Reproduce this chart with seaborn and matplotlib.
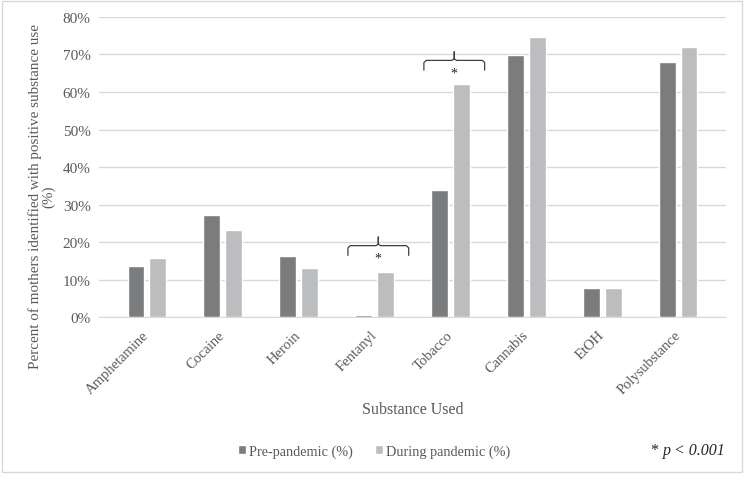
import pandas as pd
import matplotlib.pyplot as plt
import seaborn as sns

# values (percent)
substances = ['Amphetamine', 'Cocaine', 'Heroin', 'Fentanyl', 'Tobacco', 'Cannabis', 'EtOH', 'Polysubstance']
pre_pandemic = [13.6, 27.2, 16.3, 0.6, 33.9, 69.9, 7.7, 67.9]
during_pandemic = [15.7, 23.2, 13.2, 12.0, 62.0, 74.6, 7.7, 72.0]
periods = ['Pre-pandemic (%)', 'During pandemic (%)']

df = pd.DataFrame({
    'Substance': substances * 2,
    'Period': [periods[0]] * len(substances) + [periods[1]] * len(substances),
    'Percent': pre_pandemic + during_pandemic,
})

sns.set_style('white')
plt.rcParams['font.family'] = ['Liberation Serif', 'DejaVu Serif']
txt = '#595959'

fig = plt.figure(figsize=(7.5, 4.81), dpi=100)
ax = fig.add_axes([0.132, 0.338, 0.836, 0.625])

sns.barplot(data=df, x='Substance', y='Percent', hue='Period',
            palette=['#7b7c7e', '#bcbdbf'], width=0.57, gap=0.23,
            saturation=1, ax=ax)

ax.set_ylim(0, 80)
ax.set_yticks(range(0, 81, 10))
ax.set_yticklabels([f'{v}%' for v in range(0, 81, 10)], fontsize=11, color=txt)
ax.yaxis.grid(True, color='#d9d9d9', lw=1)
ax.set_axisbelow(True)
for s in ['top', 'right', 'left']:
    ax.spines[s].set_visible(False)
ax.spines['bottom'].set_color('#d9d9d9')
ax.spines['bottom'].set_zorder(0.5)
ax.tick_params(length=0, pad=6)

ax.set_xticks(range(len(substances)))
ax.set_xticklabels(substances, rotation=45, ha='right', va='center',
                   rotation_mode='anchor', fontsize=10.5, color=txt)
ax.tick_params(axis='x', pad=11)
ax.set_xlabel('Substance Used', fontsize=11.5, color=txt, va='center')
ax.xaxis.set_label_coords(0.5, -0.305)
ax.set_ylabel('Percent of mothers identified with positive substance use\n(%)',
              fontsize=10.9, color=txt, linespacing=0.95)
ax.yaxis.set_label_coords(-0.070, 0.405)

# significance braces
def brace(x0, y):
    xl, xr, xp = x0 - 0.35, x0 + 0.45, x0 + 0.05
    d = 0.03
    xs = [xl, xl, xl + d, xp - d, xp, xp, xp, xp + d, xr - d, xr, xr]
    ys = [y - 2.6, y - 0.6, y, y, y + 0.4, y + 2.3, y + 0.4, y, y, y - 0.6, y - 2.6]
    ax.plot(xs, ys, color='#404040', lw=0.9, solid_joinstyle='round', clip_on=False)
    ax.text(xp, y - 3.3, '*', ha='center', va='center', fontsize=10, color='#262626')

brace(substances.index('Fentanyl'), 19.1)
brace(substances.index('Tobacco'), 68.4)

sns.move_legend(ax, 'center', bbox_to_anchor=(0.439, -0.444), ncol=2,
                frameon=False, title=None, fontsize=10.3, handlelength=0.55,
                handleheight=0.55, handletextpad=0.25, columnspacing=1.5)
for t in ax.get_legend().get_texts():
    t.set_color(txt)

fig.text(0.867, 0.062, '*', fontsize=11.5, color='#262626', va='center')
fig.text(0.884, 0.062, 'p < 0.001', fontsize=11.5, style='italic', color='#262626', va='center')

fig.patches.append(plt.Rectangle((0.003, 0.017), 0.986, 0.978, transform=fig.transFigure,
                                 fill=False, edgecolor='#d9d9d9', lw=1))

fig.savefig('out.png', dpi=100)
